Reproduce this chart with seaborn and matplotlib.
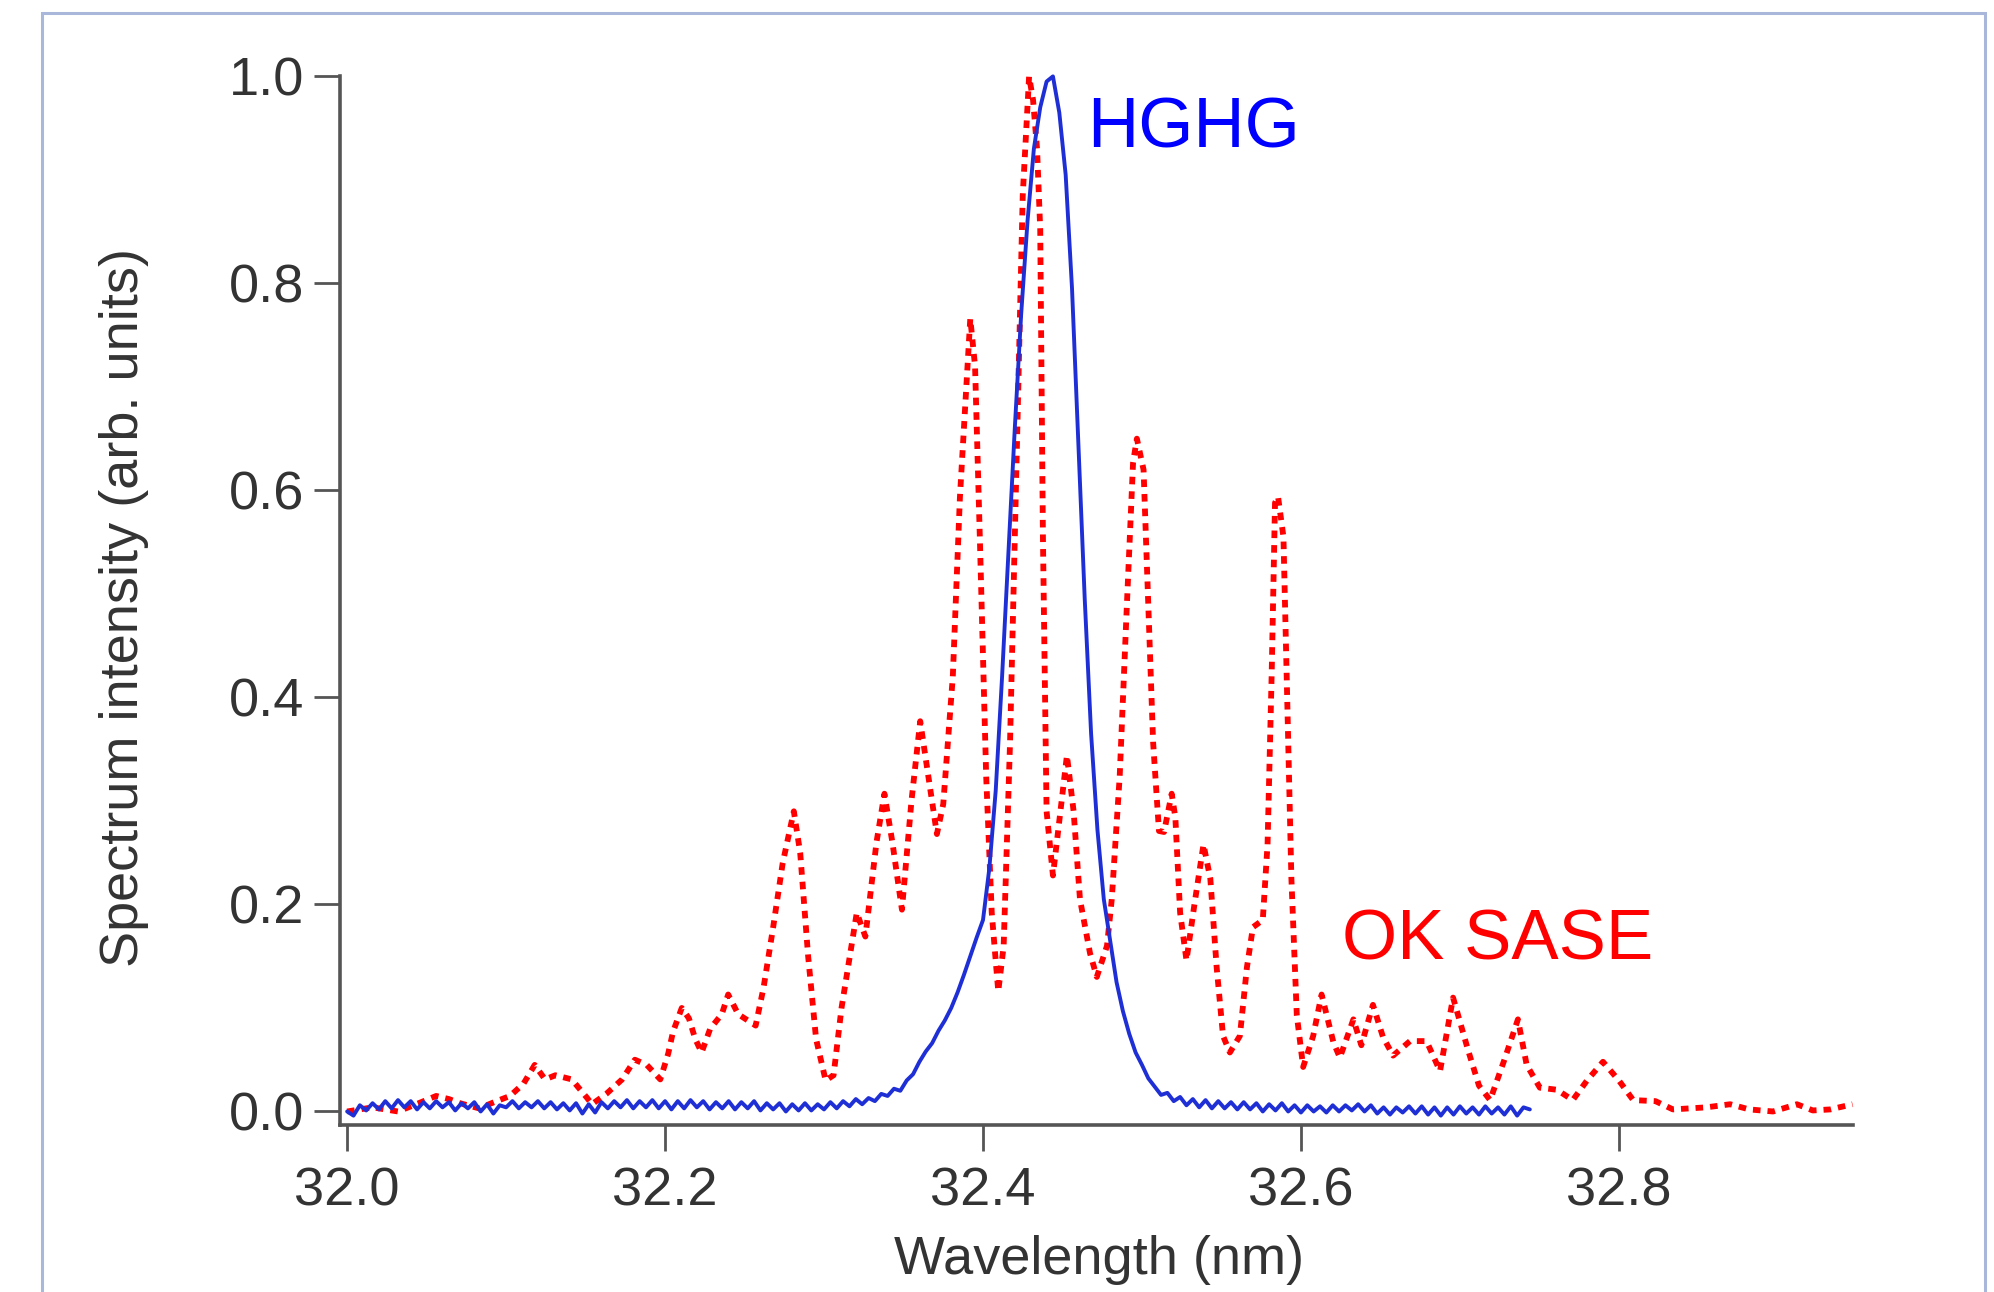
import numpy as np
import pandas as pd
import matplotlib
matplotlib.use("Agg")
import matplotlib.pyplot as plt
import seaborn as sns
from matplotlib.patches import Rectangle

# HGHG spectrum, sampled every 0.004 nm from 32.000 nm
hghg_start = 32.000
hghg_step = 0.004
hghg_intensity = [
    0.000, -0.004, 0.006, 0.001, 0.008, 0.002, 0.010, 0.003, 0.011, 0.004,
    0.010, 0.002, 0.009, 0.003, 0.010, 0.004, 0.009, 0.001, 0.008, 0.003,
    0.009, 0.000, 0.007, -0.002, 0.006, 0.004, 0.010, 0.003, 0.009, 0.004,
    0.010, 0.003, 0.009, 0.002, 0.008, 0.001, 0.008, -0.002, 0.007, -0.001,
    0.009, 0.003, 0.010, 0.004, 0.011, 0.003, 0.010, 0.004, 0.011, 0.003,
    0.010, 0.002, 0.010, 0.003, 0.011, 0.004, 0.010, 0.002, 0.009, 0.003,
    0.010, 0.002, 0.009, 0.003, 0.010, 0.001, 0.008, 0.002, 0.008, 0.000,
    0.007, 0.001, 0.008, 0.001, 0.007, 0.002, 0.009, 0.003, 0.010, 0.005,
    0.012, 0.007, 0.013, 0.010, 0.017, 0.015, 0.022, 0.020, 0.030, 0.036,
    0.048, 0.058, 0.066, 0.078, 0.088, 0.100, 0.115, 0.132, 0.150, 0.168,
    0.185, 0.235, 0.310, 0.420, 0.540, 0.660, 0.770, 0.860, 0.930, 0.970,
    0.995, 1.000, 0.965, 0.905, 0.795, 0.645, 0.495, 0.365, 0.272, 0.205,
    0.165, 0.125, 0.097, 0.075, 0.057, 0.045, 0.032, 0.024, 0.016, 0.018,
    0.010, 0.014, 0.006, 0.012, 0.004, 0.011, 0.003, 0.010, 0.003, 0.009,
    0.002, 0.009, 0.002, 0.008, 0.000, 0.007, 0.001, 0.008, 0.000, 0.006,
    -0.001, 0.006, 0.000, 0.005, -0.001, 0.006, 0.000, 0.006, 0.001, 0.007,
    0.000, 0.006, -0.002, 0.004, -0.003, 0.004, -0.001, 0.005, -0.002, 0.005,
    -0.003, 0.004, -0.004, 0.004, -0.003, 0.005, -0.002, 0.004, -0.003, 0.005,
    -0.002, 0.004, -0.003, 0.005, -0.004, 0.004, 0.002,
]
hghg_wavelength = hghg_start + hghg_step * np.arange(len(hghg_intensity))

# OK SASE spectrum
sase_wavelength = [
    32.000, 32.016, 32.032, 32.045, 32.056, 32.064, 32.071, 32.083, 32.094, 32.1025,
    32.111, 32.118, 32.1245, 32.131, 32.1413, 32.151, 32.154, 32.163, 32.173, 32.181,
    32.1885, 32.197, 32.202, 32.205, 32.2105, 32.215, 32.219, 32.223, 32.2284, 32.2357,
    32.2397, 32.246, 32.252, 32.257, 32.262, 32.268, 32.274, 32.281, 32.285, 32.290,
    32.295, 32.301, 32.306, 32.311, 32.3206, 32.326, 32.333, 32.338, 32.343, 32.349,
    32.355, 32.3605, 32.365, 32.371, 32.375, 32.381, 32.3855, 32.392, 32.395, 32.398,
    32.402, 32.4055, 32.4096, 32.413, 32.417, 32.421, 32.425, 32.429, 32.4315, 32.434,
    32.436, 32.4377, 32.440, 32.444, 32.4528, 32.457, 32.461, 32.4673, 32.4716, 32.478,
    32.481, 32.486, 32.4905, 32.4944, 32.4968, 32.501, 32.504, 32.507, 32.5107, 32.5139,
    32.5187, 32.521, 32.524, 32.528, 32.533, 32.5387, 32.543, 32.547, 32.551, 32.5553,
    32.5616, 32.566, 32.5698, 32.576, 32.579, 32.5816, 32.5837, 32.5856, 32.589, 32.591,
    32.594, 32.5974, 32.6014, 32.6077, 32.613, 32.6204, 32.6245, 32.633, 32.638, 32.6453,
    32.6516, 32.658, 32.6686, 32.679, 32.6875, 32.6957, 32.705, 32.712, 32.719, 32.728,
    32.7365, 32.742, 32.7503, 32.761, 32.771, 32.780, 32.790, 32.800, 32.809, 32.823,
    32.834, 32.855, 32.870, 32.882, 32.897, 32.912, 32.922, 32.933, 32.947,
]
sase_intensity = [
    0.000, 0.004, 0.000, 0.008, 0.015, 0.012, 0.008, 0.003, 0.010, 0.015,
    0.027, 0.045, 0.031, 0.035, 0.031, 0.013, 0.007, 0.017, 0.031, 0.050,
    0.045, 0.031, 0.056, 0.077, 0.100, 0.090, 0.070, 0.057, 0.080, 0.094,
    0.113, 0.094, 0.088, 0.083, 0.120, 0.178, 0.240, 0.290, 0.250, 0.150,
    0.070, 0.030, 0.035, 0.100, 0.192, 0.169, 0.260, 0.307, 0.260, 0.195,
    0.300, 0.377, 0.330, 0.268, 0.297, 0.420, 0.594, 0.766, 0.720, 0.555,
    0.324, 0.192, 0.116, 0.160, 0.356, 0.620, 0.885, 1.000, 0.977, 0.930,
    0.852, 0.555, 0.290, 0.228, 0.344, 0.290, 0.205, 0.153, 0.130, 0.160,
    0.205, 0.324, 0.489, 0.627, 0.650, 0.620, 0.489, 0.357, 0.271, 0.270,
    0.307, 0.284, 0.192, 0.146, 0.200, 0.258, 0.225, 0.139, 0.073, 0.057,
    0.073, 0.139, 0.178, 0.185, 0.258, 0.423, 0.588, 0.594, 0.555, 0.423,
    0.225, 0.093, 0.043, 0.073, 0.113, 0.067, 0.052, 0.089, 0.064, 0.103,
    0.072, 0.054, 0.068, 0.068, 0.039, 0.110, 0.060, 0.025, 0.011, 0.050,
    0.089, 0.045, 0.023, 0.021, 0.011, 0.030, 0.048, 0.030, 0.011, 0.010,
    0.002, 0.004, 0.007, 0.002, 0.000, 0.007, 0.001, 0.002, 0.007,
]

x_ticks = [32.0, 32.2, 32.4, 32.6, 32.8]
y_ticks = [0.0, 0.2, 0.4, 0.6, 0.8, 1.0]

df_hghg = pd.DataFrame({"wavelength": hghg_wavelength, "intensity": hghg_intensity})
df_sase = pd.DataFrame({"wavelength": sase_wavelength, "intensity": sase_intensity})

sns.set_theme(style="ticks")
plt.rcParams["font.family"] = ["Liberation Sans", "DejaVu Sans"]

fig = plt.figure(figsize=(19.94, 12.92), dpi=100)
ax = fig.add_axes([0.1705, 0.1293, 0.7588, 0.8116])

# light frame around the figure
fig.patches.append(Rectangle((42 / 1994, -0.1), (1985 - 42) / 1994, 1.1 - 13 / 1292,
                             transform=fig.transFigure, fill=False,
                             edgecolor="#a9b8da", linewidth=2.2))

sns.lineplot(data=df_sase, x="wavelength", y="intensity", ax=ax, color="#ff0000",
             linewidth=4.2, linestyle=(0, (1.3, 1.2)), estimator=None, sort=False,
             clip_on=False)
sns.lineplot(data=df_hghg, x="wavelength", y="intensity", ax=ax, color="#1e2fd6",
             linewidth=2.8, estimator=None, sort=False, clip_on=False)

ax.set_xlim(31.9955, 32.9473)
ax.set_ylim(-0.013, 1.0)
ax.set_xticks(x_ticks)
ax.set_yticks(y_ticks)
ax.set_xticklabels([f"{t:.1f}" for t in x_ticks])
ax.set_yticklabels([f"{t:.1f}" for t in y_ticks])

for side in ["top", "right"]:
    ax.spines[side].set_visible(False)
for side in ["left", "bottom"]:
    ax.spines[side].set_linewidth(2.6)
    ax.spines[side].set_color("#555555")

ax.tick_params(axis="both", direction="out", length=19, width=2.0, color="#555555",
               labelsize=39, labelcolor="#333333")
ax.tick_params(axis="y", pad=7)
ax.tick_params(axis="x", pad=11)

ax.set_xlabel("Wavelength (nm)", fontsize=39, color="#333333")
ax.set_ylabel("Spectrum intensity (arb. units)", fontsize=39, color="#333333")
ax.xaxis.set_label_coords(0.502, -0.105)
ax.yaxis.set_label_coords(-0.126, 0.4935)

ax.text(32.4654, 0.931, "HGHG", color="#0000ff", fontsize=51)
ax.text(32.6258, 0.1464, "OK SASE", color="#ff0000", fontsize=51)

fig.savefig("out.png", dpi=100)
